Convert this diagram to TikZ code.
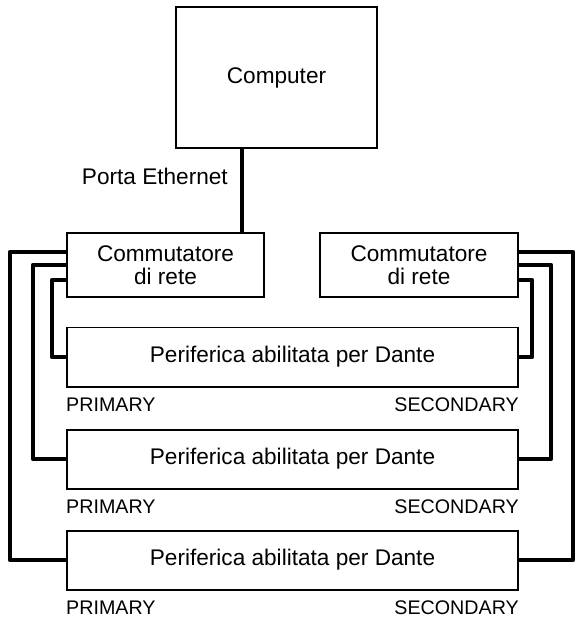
\documentclass[tikz,border=0pt]{standalone}
\usepackage{fontspec}
\setmainfont{Liberation Sans}
\usetikzlibrary{calc}

\begin{document}
\begin{tikzpicture}[x=0.03cm, y=-0.03cm]
\tikzset{
 box/.style={draw, fill=white, line width=1.7pt, inner sep=0, align=center, font=\fontsize{19.3}{19.5}\selectfont},
 cable/.style={line width=3.6pt, line join=round},
 port/.style={inner sep=0, font=\fontsize{16.8}{17}\selectfont}
}
\useasboundingbox (0,0) rectangle (581,617);
\node[box, minimum width=6.03cm, minimum height=4.23cm] (pc) at (276.5,77.5) {Computer};
\node[box, minimum width=5.91cm, minimum height=1.92cm] (swl) at (165.5,265) {Commutatore\\di rete};
\node[box, minimum width=5.94cm, minimum height=1.92cm] (swr) at (419,265) {Commutatore\\di rete};
\coordinate (eth) at (242,0);
\draw[cable] (pc.south -| eth) -- (swl.north -| eth);
\node[inner sep=0, anchor=east, font=\fontsize{19.3}{19.5}\selectfont] (lbl) at (228,176) {Porta Ethernet};
\foreach \i/\y/\sy/\lx/\rx in {1/357/280/52/532, 2/459/265/33/551, 3/560/252/10/573} {
 \node[box, minimum width=13.53cm, minimum height=1.77cm] (d\i) at (292.5,\y) {Periferica abilitata per Dante};
 \node[port, anchor=north west] (p\i) at ($(d\i.south west)+(0,10)$) {PRIMARY};
 \node[port, anchor=north east] (s\i) at ($(d\i.south east)+(0,10)$) {SECONDARY};
 \draw[cable] (swl.west |- 0,\sy) -- (\lx,\sy) |- (d\i.west);
 \draw[cable] (swr.east |- 0,\sy) -- (\rx,\sy) |- (d\i.east);
}
\end{tikzpicture}
\end{document}
